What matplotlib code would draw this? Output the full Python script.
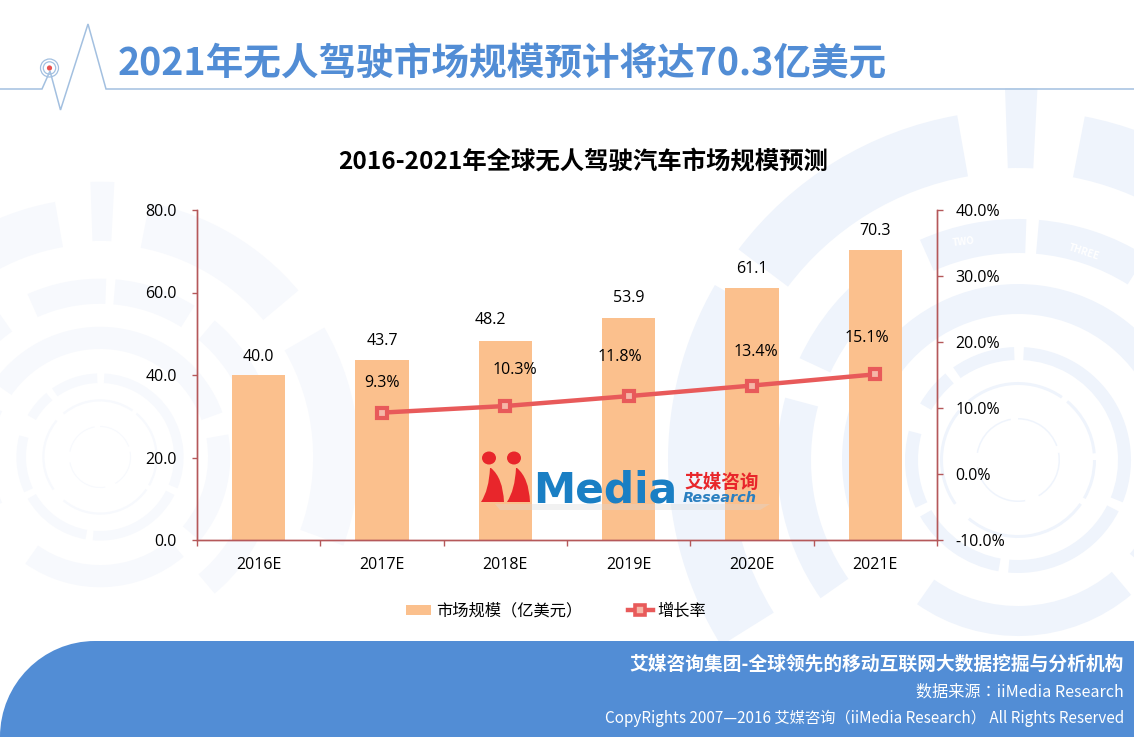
import numpy as np
import matplotlib
matplotlib.use('Agg')
import matplotlib.pyplot as plt
from matplotlib.patches import Circle, Ellipse, Wedge, PathPatch, Polygon, Rectangle
from matplotlib.path import Path
from matplotlib.lines import Line2D

plt.rcParams['font.family'] = ['Noto Sans CJK SC', 'DejaVu Sans']
TC = ['Noto Sans CJK TC', 'DejaVu Sans']
NUM = 'Open Sans'

years = ['2016E', '2017E', '2018E', '2019E', '2020E', '2021E']
market = [40.0, 43.7, 48.2, 53.9, 61.1, 70.3]
growth = [np.nan, 9.3, 10.3, 11.8, 13.4, 15.1]
left_ticks = [0, 20, 40, 60, 80]
right_ticks = [-10, 0, 10, 20, 30, 40]

BAR = '#FBC08D'
LINE = '#E85A5A'
AXIS = '#B5585A'
BLUE = '#528DD5'

W, H = 1134, 737
fig = plt.figure(figsize=(W / 100, H / 100), dpi=100, facecolor='white')


def overlay(z):
    a = fig.add_axes([0, 0, 1, 1], zorder=z)
    a.set_xlim(0, W)
    a.set_ylim(H, 0)
    a.axis('off')
    a.patch.set_alpha(0)
    return a


# faint background rings: radius, width, from angle, to angle (counter clockwise on screen)
motif = [
    (42, 1.5, 100, 170), (42, 1.5, 20, 90), (42, 1.5, -60, 10), (42, 1.5, -170, -80),
    (78, 3, 55, 130), (78, 3, 5, 50), (78, 3, -30, 0), (78, 3, -130, -35), (78, 3, 140, 215),
    (113, 13, 92, 125), (113, 13, 130, 150), (113, 13, -22, 87), (113, 13, -95, -27),
    (113, 13, -150, -100), (113, 13, 165, 205),
    (176, 30, 20, 145), (176, 30, -40, 10), (176, 30, -125, -50), (176, 30, 155, 205),
    (241, 34, 125, 155), (241, 34, 88, 114), (241, 34, 58, 85), (241, 34, 20, 50),
    (241, 34, -50, 10), (241, 34, 165, 215),
    (350, 62, 100, 143), (350, 62, 40, 79), (350, 62, 150, 212), (350, 62, -20, 30),
    (372, 80, 87, 92),
]
bg = overlay(0)
for cx, cy, sc, col in [(1018, 460, 1.0, '#EFF4FC'), (100, 457, 0.74, '#F7F9FD')]:
    for r, wd, a0, a1 in motif:
        # y axis is flipped so the angles swap sign
        bg.add_patch(Wedge((cx, cy), r * sc, -a1, -a0, width=wd * sc, fc=col, ec='none'))
bg.text(964, 242, 'TWO', color='white', fontsize=7, fontweight='bold', rotation=6, ha='center', va='center')
bg.text(1084, 252, 'THREE', color='white', fontsize=7, fontweight='bold', rotation=-18, ha='center', va='center')

# header line with the pulse
hx = [0, 42, 50, 60.5, 88, 106, W]
hy = [89, 89, 71, 110, 24, 89, 89]
bg.plot(hx, hy, color='#A3C0E0', lw=1.1, solid_joinstyle='miter')
bg.add_patch(Circle((49.5, 68), 9, fc='white', ec='#A3C0E0', lw=0.9))
bg.add_patch(Circle((49.5, 68), 6.2, fc='white', ec='#A3C0E0', lw=0.9))
bg.add_patch(Circle((49.5, 68), 2.6, fc='#E8514F', ec='none'))

fig.text(118 / W, 1 - 64 / H, '2021年无人驾驶市场规模预计将达70.3亿美元', color=BLUE,
         fontsize=27.1, fontweight='bold', ha='left', va='center', zorder=6)
fig.text(583 / W, 1 - 162 / H, '2016-2021年全球无人驾驶汽车市场规模预测', color='black',
         fontsize=17.6, fontweight='bold', ha='center', va='center', zorder=6)

# main chart
ax = fig.add_axes([197 / W, 1 - 540 / H, 740 / W, 330 / H], zorder=2)
ax.patch.set_alpha(0)
x = np.arange(len(years))
ax.bar(x, market, width=0.43, color=BAR, zorder=2)
ax.set_xlim(-0.5, 5.5)
ax.set_ylim(0, 80)
ax.set_yticks(left_ticks)
ax.set_yticklabels([f'{v:.1f}' for v in left_ticks], fontsize=11.5, family=NUM)
ax.set_xticks(x)
ax.set_xticklabels(years, fontsize=11.5, family=NUM)
ax.set_xticks(np.arange(-0.5, 6), minor=True)
ax.tick_params(axis='x', which='major', length=0, pad=12)
ax.tick_params(axis='x', which='minor', length=4.3, color=AXIS, width=1)
ax.tick_params(axis='y', length=3.6, color=AXIS, width=1, pad=11)

ax2 = ax.twinx()
ax2.patch.set_alpha(0)
ax2.plot(x, growth, color=LINE, lw=3.2, marker='s', ms=7.5, mfc='#F6B7A8', mec=LINE, mew=3, zorder=4)
ax2.set_ylim(-10, 40)
ax2.set_yticks(right_ticks)
ax2.set_yticklabels([f'{v:.1f}%' for v in right_ticks], fontsize=11.5, family=NUM)
ax2.tick_params(axis='y', length=4.3, color=AXIS, width=1, pad=9)

for a in (ax, ax2):
    a.spines['top'].set_visible(False)
    for s in ('left', 'right', 'bottom'):
        a.spines[s].set_color(AXIS)
        a.spines[s].set_linewidth(1)

# labels sit where the original slide had dragged them
bar_off = [(0, 18), (0, 19), (-15, 21), (0, 20), (0, 19), (0, 19)]
for i, v in enumerate(market):
    ax.annotate(f'{v:.1f}', (i, v), xytext=(bar_off[i][0] * 0.72, bar_off[i][1] * 0.72),
                textcoords='offset points', ha='center', va='center', fontsize=11.5, family=NUM, zorder=6)
line_off = [None, (0, 30), (10, 36), (-9, 39), (4, 34), (-8, 36)]
for i, v in enumerate(growth):
    if line_off[i] is None:
        continue
    ax2.annotate(f'{v:.1f}%', (i, v), xytext=(line_off[i][0] * 0.72, line_off[i][1] * 0.72),
                 textcoords='offset points', ha='center', va='center', fontsize=11.5, family=NUM, zorder=6)

# legend
handles = [Rectangle((0, 0), 1, 1, fc=BAR, ec='none'),
           Line2D([], [], color=LINE, lw=3.2, marker='s', ms=6.5, mfc='#F6B7A8', mec=LINE, mew=2.6)]
fig.legend(handles, ['市场规模（亿美元）', '增长率'], ncol=2, frameon=False,
           prop={'family': TC, 'size': 11.7},
           loc='center', bbox_to_anchor=(556 / W, 1 - 611 / H), handlelength=1.55, handleheight=0.55,
           handletextpad=0.3, columnspacing=2.8)

fg = overlay(5)
# logo
for cx in (489, 514):
    fg.add_patch(Ellipse((cx, 458), 14, 13, fc='#E8262B', ec='none'))
for x0 in (481, 507):
    verts = [(x0, 502), (x0 + 8, 490), (x0 + 9, 468), (x0 + 10, 468), (x0 + 22, 478), (x0 + 23, 502), (x0, 502)]
    codes = [Path.MOVETO, Path.CURVE3, Path.CURVE3, Path.LINETO, Path.CURVE3, Path.CURVE3, Path.CLOSEPOLY]
    fg.add_patch(PathPatch(Path(verts, codes), fc='#E8262B', ec='none'))
fg.add_patch(Polygon([(495, 504), (770, 504), (760, 510), (500, 510)], fc='#D9D9D9', ec='none', alpha=0.35))
fg.text(533, 490, 'Media', color='#1A7FC4', fontsize=30.5, fontweight='bold', family='DejaVu Sans',
        ha='left', va='center')
fg.text(684, 482, '艾媒咨询', color='#E8262B', fontsize=13.4, fontweight='bold', style='italic',
        ha='left', va='center')
fg.text(683, 498, 'Research', color='#2A7FC0', fontsize=10.4, fontweight='bold', style='italic',
        family='DejaVu Sans', ha='left', va='center')

# bottom banner
verts = [(0, H), (0, 684), (42.6, 641), (95, 641), (W, 641), (W, H), (0, H)]
codes = [Path.MOVETO, Path.CURVE4, Path.CURVE4, Path.CURVE4, Path.LINETO, Path.LINETO, Path.CLOSEPOLY]
fg.add_patch(PathPatch(Path(verts, codes), fc=BLUE, ec='none'))
fg.text(1124, 664, '艾媒咨询集团-全球领先的移动互联网大数据挖掘与分析机构', color='white', fontsize=13.5,
        fontweight='bold', ha='right', va='center')
fg.text(1124, 692, '数据来源：iiMedia Research', color='white', fontsize=11.6, family=TC, ha='right', va='center')
fg.text(1124, 718, 'CopyRights 2007—2016 艾媒咨询（iiMedia Research） All Rights Reserved', color='white',
        fontsize=11, family=TC, ha='right', va='center')

fig.savefig('out.png', dpi=100)
